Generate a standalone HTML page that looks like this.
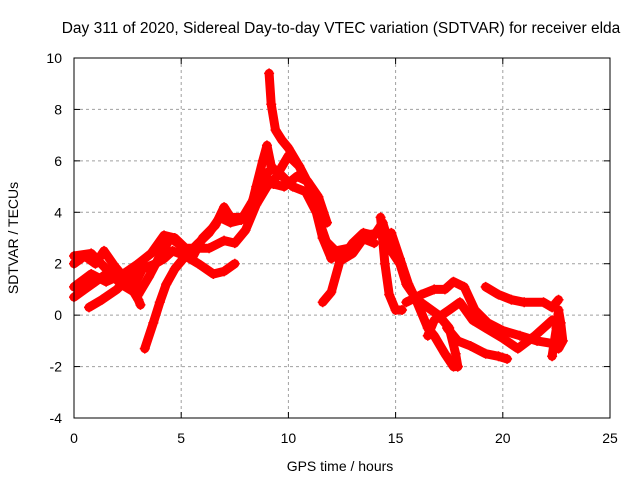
<!DOCTYPE html>
<html><head><meta charset="utf-8"><style>
body{margin:0;background:#fff}
svg{display:block;font-family:"Liberation Sans",sans-serif}
</style></head><body>
<svg id="chart" width="640" height="480" viewBox="0 0 640 480">
<text x="341" y="33" font-size="15.5" text-anchor="middle">Day 311 of 2020, Sidereal Day-to-day VTEC variation (SDTVAR) for receiver elda</text>
<text x="340" y="471" font-size="14" text-anchor="middle">GPS time / hours</text>
<text transform="translate(18,238) rotate(-90)" font-size="14" text-anchor="middle">SDTVAR / TECUs</text>
<g id="grid"></g><g id="ticks"></g><g id="series"></g>
<rect x="74" y="58" width="536" height="360" fill="none" stroke="#000" stroke-width="1"/>
</svg>
<script>
const xTicks=[0,5,10,15,20,25];
const yTicks=[-4,-2,0,2,4,6,8,10];
const track1=[[0,2.3],[0.8,2.4],[1.5,1.8],[2.2,1.2],[3,0.8],[3.5,1.5],[4,2.3],[4.5,3.0],[5,2.7],[5.5,2.2],[6,3.0],[6.6,3.5],[7,4.2],[7.3,3.8],[7.8,3.8],[8.2,4.0],[8.5,5.0],[8.8,6.0],[9,6.6],[9.2,5.8],[9.5,5.5],[10,6.2],[10.5,5.8],[11,5.0],[11.5,3.5],[12,2.3],[12.5,2.2],[13,2.8],[13.5,3.2],[14,3.1],[14.4,3.6],[14.8,2.5],[15.2,2.0],[15.5,1.2],[16,0.6],[16.5,0.3],[17,0.0],[17.5,-0.5],[17.8,-1.5],[17.9,-2.0]];
const track2=[[0,0.7],[0.5,1.0],[1,1.3],[1.5,1.6],[2,1.4],[2.7,1.0],[3.2,1.8],[3.8,2.0],[4.2,2.2],[4.6,2.5],[5.2,2.3],[5.8,2.0],[6.5,1.6],[7,1.7],[7.5,2.0]];
const track3=[[0.7,0.3],[1.3,0.6],[2,1.0],[2.5,1.4],[3,2.0],[3.6,2.4],[4.2,3.1],[4.7,3.0],[5.2,2.6],[5.7,2.6],[6.3,2.6],[7,2.9],[7.5,2.8],[8,3.3],[8.5,4.3],[9,5.0],[9.6,5.5],[10.2,5.0],[10.8,4.8],[11.3,4.0],[11.6,3.0],[12.2,2.5],[12.8,2.6],[13.4,3.0],[14,2.8]];
const track4=[[3.3,-1.3],[3.7,-0.3],[4,0.5],[4.3,1.2],[4.7,1.8],[5.2,2.3],[5.8,2.8],[6.3,3.2],[6.8,3.8],[7.3,3.6],[7.8,3.7],[8.3,4.4],[8.7,5.2],[9.1,5.6]];
const track5=[[9.1,9.4],[9.2,8.2],[9.4,7.2],[9.7,6.8],[10,6.5],[10.5,5.8],[11,5.0],[11.3,4.2],[11.6,3.0],[12,2.2]];
const track6=[[11.6,0.5],[12,0.9],[12.4,2.1],[13,2.4],[13.6,3.1],[14.2,3.2]];
const track7=[[14.3,3.8],[14.5,2.0],[14.7,0.8],[15,0.2],[15.3,0.2]];
const track8=[[14.8,3.2],[15.2,2.2],[15.6,1.2],[16,0.5],[16.5,-0.5],[16.8,-0.8],[17.3,-1.5],[17.7,-2.0],[17.9,-2.0]];
const track9=[[15.5,0.5],[16.2,0.8],[16.8,1.0],[17.3,1.0],[17.7,1.3],[18.2,1.1],[18.7,0.2],[19.3,-0.3],[20,-0.6],[20.8,-0.8],[21.6,-1.0],[22.3,-1.1],[22.7,-1.0]];
const track10=[[16.5,-0.8],[16.8,-0.2],[17.5,0.2],[18,0.5],[18.6,-0.2],[19.2,-0.5],[20,-0.9],[20.7,-1.3],[21.5,-0.8],[22.3,-0.2]];
const track11=[[17.4,-0.5],[17.9,-1.0],[18.5,-1.2],[19.2,-1.5],[19.8,-1.6],[20.2,-1.7]];
const track12=[[19.2,1.1],[19.8,0.8],[20.4,0.6],[21,0.5],[21.9,0.5],[22.3,0.3],[22.6,0.6]];
const track13=[[22.3,-1.6],[22.5,-0.5],[22.6,0.2],[22.7,-0.3],[22.8,-1.0],[22.6,-1.3]];
const track14=[[0,2.0],[0.5,2.3],[1,2.0],[1.4,2.5],[1.9,1.9],[2.5,1.3],[3,0.6],[3.1,0.4]];
const track15=[[0,1.1],[0.8,1.6],[1.5,1.3],[2.3,1.6],[3,2.0]];
const track16=[[8.6,4.6],[8.9,5.4],[9.3,5.1],[9.8,5.0],[10.4,5.4],[10.9,5.2],[11.4,4.6],[11.8,3.6]];
const tracks=[track1,track2,track3,track4,track5,track6,track7,track8,track9,track10,track11,track12,track13,track14,track15,track16];
const NS="http://www.w3.org/2000/svg";
const X0=74,X1=610,Y0=418,Y1=58;
function sx(h){return X0+(h-0)/(25-0)*(X1-X0);}
function sy(v){return Y0-(v+4)/14*(Y0-Y1);}
const grid=document.getElementById('grid'),ticks=document.getElementById('ticks'),ser=document.getElementById('series');
function mk(tag,attrs,parent){const e=document.createElementNS(NS,tag);for(const k in attrs)e.setAttribute(k,attrs[k]);parent.appendChild(e);return e;}
xTicks.forEach(t=>{
  const x=sx(t);
  if(t>0&&t<25){const g=mk('line',{x1:x,x2:x,y1:Y1,y2:Y0,stroke:'#a0a0a0','stroke-dasharray':'3,3'},grid);
  
  }
  const tk=mk('line',{x1:x,x2:x,y1:Y0,y2:Y0-6,stroke:'#000'},ticks);
  
  
  mk('line',{x1:x,x2:x,y1:Y1,y2:Y1+6,stroke:'#000'},ticks);
  const l=mk('text',{x:x,y:443,'font-size':14,'text-anchor':'middle'},ticks);l.textContent=t;
  
  
});
yTicks.forEach(t=>{
  const y=sy(t);
  if(t>-4&&t<10){const g=mk('line',{x1:X0,x2:X1,y1:y,y2:y,stroke:'#a0a0a0','stroke-dasharray':'3,3'},grid);
  
  }
  const tk=mk('line',{x1:X0,x2:X0+6,y1:y,y2:y,stroke:'#000'},ticks);
  
  
  mk('line',{x1:X1,x2:X1-6,y1:y,y2:y,stroke:'#000'},ticks);
  const l=mk('text',{x:62,y:y+5,'font-size':14,'text-anchor':'end'},ticks);l.textContent=t;
  
  
});
tracks.forEach((tr,i)=>{
  const pts=tr.map(p=>sx(p[0]).toFixed(1)+','+sy(p[1]).toFixed(1)).join(' ');
  const pl=mk('polyline',{points:pts,fill:'none',stroke:'#ff0000','stroke-width':9,'stroke-linejoin':'round','stroke-linecap':'round'},ser);
  
  
  tr.forEach(p=>{
    const x=sx(p[0]),y=sy(p[1]);
    const m=mk('path',{d:`M${x-5},${y}H${x+5}M${x},${y-5}V${y+5}`,stroke:'#ff0000','stroke-width':1.5},ser);
    
    
  });
});
</script>
</body></html>
